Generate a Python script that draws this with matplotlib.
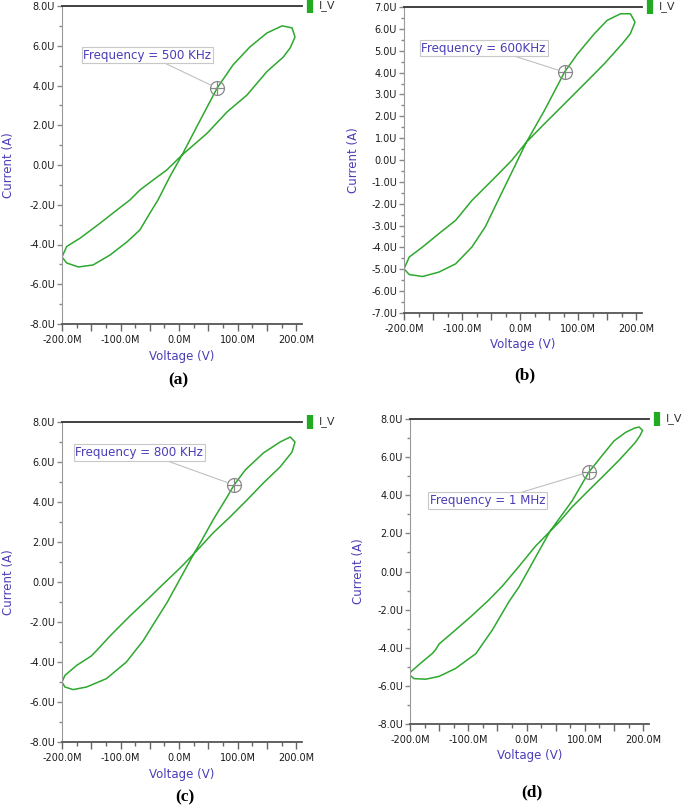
import matplotlib
matplotlib.use("Agg")
import matplotlib.pyplot as plt
from matplotlib.ticker import MultipleLocator, FuncFormatter

# I-V loops (voltage in mV, current in uA)
v_a = [-200, -192, -172, -147, -118, -89, -67, -50, -36, -16, 5, 36, 65, 92, 121, 150, 176, 193, 198,
       190, 178, 150, 116, 82, 48, 5, -21, -44, -67, -84, -106, -135, -169, -192, -200]
i_a = [-4.63, -4.93, -5.13, -5.03, -4.53, -3.87, -3.27, -2.43, -1.76, -0.6, 0.5, 2.25, 3.87, 5.03, 5.94,
       6.64, 7.0, 6.9, 6.44, 5.9, 5.43, 4.7, 3.52, 2.67, 1.6, 0.5, -0.25, -0.75, -1.26, -1.76, -2.26,
       -2.93, -3.68, -4.1, -4.63]

v_b = [-200, -191, -168, -140, -111, -83, -60, -38, 11, 42, 76.5, 99, 128, 150, 173, 190, 198,
       190, 176, 145, 111, 76.5, 42, 11, -14.5, -43, -66, -83, -111, -140, -168, -191, -200]
i_b = [-4.98, -5.24, -5.33, -5.13, -4.75, -3.98, -3.06, -1.85, 0.82, 2.27, 4.02, 4.86, 5.78, 6.39,
       6.69, 6.69, 6.31, 5.78, 5.32, 4.4, 3.49, 2.57, 1.66, 0.82, -0.02, -0.79, -1.4, -1.85, -2.76,
       -3.37, -3.98, -4.44, -4.98]

v_c = [-200, -195, -181, -158, -124, -90, -61, -50, -20, 25, 39, 58, 82, 94, 113, 144, 172.5, 190,
       198, 193, 172.5, 144, 116, 87, 58, 25, 0, -27, -55, -84, -118, -140, -150, -175, -195, -200]
i_c = [-5.0, -5.25, -5.38, -5.25, -4.83, -4.0, -2.92, -2.4, -1.0, 1.4, 2.1, 3.1, 4.25, 4.85, 5.6,
       6.45, 7.0, 7.25, 7.0, 6.5, 5.75, 4.95, 4.1, 3.25, 2.45, 1.4, 0.65, -0.1, -0.9, -1.7, -2.7,
       -3.4, -3.7, -4.17, -4.67, -5.0]

v_d = [-200, -193, -173, -150, -122, -87, -59, -30, -13, 40, 78, 107, 130, 150, 170, 185, 193, 199,
       194, 186, 159, 130, 107, 78, 56, 40, 15, -13, -42, -65, -95, -127, -150, -156, -162, -179,
       -199, -200]
i_d = [-5.44, -5.62, -5.65, -5.5, -5.09, -4.31, -3.08, -1.57, -0.81, 2.1, 3.7, 5.22, 6.1, 6.85, 7.3,
       7.52, 7.58, 7.4, 7.1, 6.75, 5.85, 4.96, 4.27, 3.38, 2.6, 2.1, 1.32, 0.27, -0.78, -1.5, -2.35,
       -3.2, -3.8, -4.1, -4.31, -4.74, -5.27, -5.44]

freq_labels = ["Frequency = 500 KHz", "Frequency = 600KHz", "Frequency = 800 KHz", "Frequency = 1 MHz"]
marker_pts = [(65, 3.87), (76.5, 4.02), (94, 4.85), (107, 5.22)]
label_pts = [(-54, 5.53), (-63, 5.12), (-68, 6.47), (-67, 3.72)]
captions = ["(a)", "(b)", "(c)", "(d)"]
y_limits = [8, 7, 8, 8]
y_steps = [2, 1, 2, 2]

green = "#2ea82e"
purple = "#4a3db8"

fig = plt.figure(figsize=(6.85, 8.06), dpi=100)

# axes boxes in pixels: left, top, right, bottom
boxes = [(62, 6, 302, 324), (404, 7, 642, 313), (62, 422, 302, 742), (410, 419, 649, 724)]
cap_pos = [(178, 380), (525, 375), (185, 797), (532, 792)]
relpos = [(0.61, 0.0), (0.71, 0.0), (0.68, 0.0), (0.74, 1.0)]
ylab_x = [-0.196, -0.185, -0.196, -0.188]

data = [(v_a, i_a), (v_b, i_b), (v_c, i_c), (v_d, i_d)]

for k in range(4):
    l, t, r, b = boxes[k]
    ax = fig.add_axes([l / 685, 1 - b / 806, (r - l) / 685, (b - t) / 806])
    v, i = data[k]
    ax.plot(v, i, color=green, lw=1.1)

    ax.set_xlim(-200, 210)
    ax.set_ylim(-y_limits[k], y_limits[k])

    ax.xaxis.set_major_locator(MultipleLocator(50))
    ax.xaxis.set_minor_locator(MultipleLocator(25))
    ax.xaxis.set_major_formatter(FuncFormatter(lambda x, p: f"{x:.1f}M" if x % 100 == 0 else ""))
    ax.yaxis.set_major_locator(MultipleLocator(y_steps[k]))
    ax.yaxis.set_minor_locator(MultipleLocator(y_steps[k] / 2))
    ax.yaxis.set_major_formatter(FuncFormatter(lambda y, p: f"{y:.1f}U"))

    ax.tick_params(axis="x", which="major", length=5, width=1, color="#666", pad=3,
                   labelsize=7, labelcolor="#1a1a1a")
    ax.tick_params(axis="x", which="minor", length=3, width=1, color="#666")
    ax.tick_params(axis="y", which="major", length=3.5, width=1, color="#888", pad=1.5,
                   labelsize=7, labelcolor="#1a1a1a")
    ax.tick_params(axis="y", which="minor", length=2.2, width=1, color="#888")

    ax.spines["right"].set_visible(False)
    ax.spines["left"].set_color("#999")
    ax.spines["bottom"].set_color("#555")
    ax.spines["bottom"].set_linewidth(1.3)
    ax.spines["top"].set_color("#333")
    ax.spines["top"].set_linewidth(1.3)

    ax.set_xlabel("Voltage (V)", color=purple, fontsize=8.5)
    ax.set_ylabel("Current (A)", color=purple, fontsize=8.5)
    ax.xaxis.set_label_coords(0.5, -0.081)
    ax.yaxis.set_label_coords(ylab_x[k], 0.5)

    # crosshair marker and its label
    mx, my = marker_pts[k]
    ax.plot([mx], [my], marker="o", ms=10, mfc="none", mec="#888", mew=0.9)
    ax.plot([mx], [my], marker="+", ms=10, mec="#888", mew=0.9)
    ax.annotate(freq_labels[k], xy=(mx, my), xytext=label_pts[k], textcoords="data",
                ha="center", va="center", fontsize=8.6, color=purple,
                bbox=dict(boxstyle="square,pad=0.15", fc="white", ec="#c8c8c8", lw=0.8),
                arrowprops=dict(arrowstyle="-", color="#c0c0c0", lw=0.8,
                                relpos=relpos[k], shrinkA=0, shrinkB=5))

    # legend tag at the end of the top line
    ax.plot([1.032], [1.0], marker="|", ms=9.5, mew=4.5, color="#22aa22",
            transform=ax.transAxes, clip_on=False)
    ax.text(1.07, 1.0, "I_V", transform=ax.transAxes, ha="left", va="center",
            fontsize=8, color="#333")

    cx, cy = cap_pos[k]
    fig.text(cx / 685, 1 - cy / 806, captions[k], ha="center", va="center",
             fontsize=12.5, fontweight="bold", family="Liberation Serif")

fig.savefig("out.png", dpi=100)
